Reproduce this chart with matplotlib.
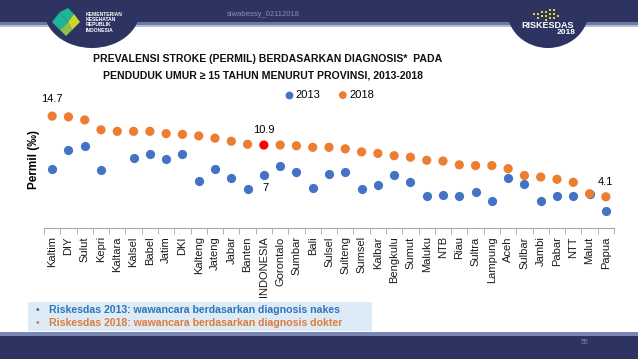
import matplotlib
matplotlib.use("Agg")
import matplotlib.pyplot as plt
from matplotlib.patches import Rectangle, Ellipse, Polygon
from matplotlib import font_manager
import numpy as np

plt.rcParams['font.family'] = ['Liberation Sans', 'DejaVu Sans']

provinces = ["Kaltim", "DIY", "Sulut", "Kepri", "Kaltara", "Kalsel", "Babel", "Jatim", "DKI",
             "Kalteng", "Jateng", "Jabar", "Banten", "INDONESIA", "Gorontalo", "Sumbar", "Bali",
             "Sulsel", "Sulteng", "Sumsel", "Kalbar", "Bengkulu", "Sumut", "Maluku", "NTB", "Riau",
             "Sultra", "Lampung", "Aceh", "Sulbar", "Jambi", "Pabar", "NTT", "Malut", "Papua"]
v2013 = [7.7, 10.3, 10.8, 7.6, np.nan, 9.2, 9.7, 9.1, 9.7,
         6.2, 7.7, 6.6, 5.1, 7.0, 8.2, 7.4, 5.3,
         7.1, 7.4, 5.1, 5.7, 6.9, 6.0, 4.2, 4.4, 4.2,
         4.7, 3.6, 6.6, 5.8, 3.5, 4.2, 4.2, 4.5, 2.2]
v2018 = [14.7, 14.6, 14.2, 12.9, 12.7, 12.7, 12.7, 12.4, 12.3,
         12.1, 11.8, 11.4, 11.0, 10.9, 10.9, 10.8, 10.6,
         10.6, 10.4, 10.0, 9.8, 9.5, 9.3, 8.9, 8.8, 8.3,
         8.2, 8.2, 7.8, 6.9, 6.7, 6.4, 6.0, 4.5, 4.1]
series_names = ["2013", "2018"]
title_lines = ["PREVALENSI STROKE (PERMIL) BERDASARKAN DIAGNOSIS*  PADA",
               "PENDUDUK UMUR \u2265 15 TAHUN MENURUT PROVINSI, 2013-2018"]
notes = ["Riskesdas 2013: wawancara berdasarkan diagnosis nakes",
         "Riskesdas 2018: wawancara berdasarkan diagnosis dokter"]

BLUE = "#4472C4"
ORANGE = "#ED7D31"
NAVY = "#2E3461"

# pick a condensed font for the title if one is installed
installed = {f.name for f in font_manager.fontManager.ttflist}
title_family = None
for cand in ["Liberation Sans Narrow", "DejaVu Sans Condensed"]:
    if cand in installed:
        title_family = cand
        break

fig = plt.figure(figsize=(6.38, 3.59), dpi=100)
W, H = 638, 359

def fx(px): return px / W
def fy(py): return 1 - py / H

# ---- header / footer decoration ----
bg = fig.add_axes([0, 0, 1, 1], zorder=0)
bg.set_xlim(0, W); bg.set_ylim(H, 0); bg.axis("off")
bg.add_patch(Rectangle((0, 0), W, 22, color=NAVY, lw=0))
bg.add_patch(Rectangle((0, 22), W, 3, color="#6E78A8", lw=0))
bg.add_patch(Rectangle((0, 25), W, 2, color="#B5BCD8", lw=0))
bg.add_patch(Ellipse((92, 10), 96, 76, color=NAVY, lw=0))
bg.add_patch(Ellipse((548, 10), 82, 76, color=NAVY, lw=0))
# left logo
bg.add_patch(Polygon([(52, 22), (60, 12), (68, 22), (60, 30)], color="#1FB59A", lw=0))
bg.add_patch(Polygon([(60, 12), (68, 8), (74, 14), (68, 22)], color="#1FB59A", lw=0))
bg.add_patch(Polygon([(68, 22), (74, 14), (80, 22), (72, 30)], color="#C8D92B", lw=0))
bg.add_patch(Polygon([(60, 30), (68, 22), (72, 30), (66, 36)], color="#8BC34A", lw=0))
for i, t in enumerate(["KEMENTERIAN", "KESEHATAN", "REPUBLIK", "INDONESIA"]):
    bg.text(86, 14 + i * 5.5, t, color="white", fontsize=3.6, fontweight="bold", va="center")
# right logo
rng_pts = [(533, 13), (537, 13), (541, 11), (545, 11), (549, 9), (553, 9), (537, 17), (541, 15),
           (545, 15), (549, 13), (553, 13), (545, 19), (549, 17), (553, 17), (557, 15)]
for (px, py) in rng_pts:
    bg.add_patch(Rectangle((px, py), 2.4, 2.4, color="#E8D32A", lw=0))
bg.text(548, 25, "RISKESDAS", color="white", fontsize=6.5, fontweight="bold", ha="center", va="center")
bg.text(566, 32, "2018", color="white", fontsize=6, fontweight="bold", ha="center", va="center")
bg.text(263, 14, "siwabessy_02112018", color="#8A90B0", fontsize=5.5, ha="center", va="center")
# footer
bg.add_patch(Rectangle((0, 332), W, 4, color="#7C86B5", lw=0))
bg.add_patch(Rectangle((0, 336), W, 23, color=NAVY, lw=0))
bg.text(585, 342, "55", color="#7C86B5", fontsize=5, ha="center", va="center")
# footnote box
bg.add_patch(Rectangle((28, 302), 344, 29, color="#DDEBF7", lw=0))
bg.text(36, 310, "\u2022", color="#2E75B6", fontsize=7.6, va="center")
bg.text(49, 310, notes[0], color="#2E75B6", fontsize=7.6, fontweight="bold", va="center")
bg.text(36, 323, "\u2022", color="#E07B39", fontsize=7.6, va="center")
bg.text(49, 323, notes[1], color="#E07B39", fontsize=7.6, fontweight="bold", va="center")

# title
tkw = dict(ha="center", va="center", fontweight="bold", color="#111111")
if title_family:
    tkw.update(family=[title_family, "DejaVu Sans"], fontsize=9.3)
else:
    tkw.update(fontsize=7.6)
fig.text(fx(268), fy(59), title_lines[0], **tkw)
fig.text(fx(263), fy(75), title_lines[1], **tkw)

# ---- chart ----
ax = fig.add_axes([fx(44), fy(228), fx(614) - fx(44), fy(91) - fy(228)], zorder=1)
ax.patch.set_alpha(0)
x = np.arange(len(provinces))
ax.scatter(x, v2013, s=44, color=BLUE, zorder=3, label=series_names[0], linewidths=0)
colors18 = [("#FF0000" if p == "INDONESIA" else ORANGE) for p in provinces]
ax.scatter(x, v2018, s=44, color=colors18, zorder=4, label=series_names[1], linewidths=0)
ax.set_xlim(-0.5, len(provinces) - 0.5)
ax.set_ylim(0, 18)
ax.set_yticks([])
for s in ["top", "right", "left"]:
    ax.spines[s].set_visible(False)
ax.spines["bottom"].set_color("#A6A6A6")
ax.set_xticks(x)
ax.set_xticklabels(provinces, rotation=90, fontsize=8, color="#1a1a1a")
ax.tick_params(axis="x", length=0, pad=6)
ax.set_xticks(np.arange(len(provinces) + 1) - 0.5, minor=True)
ax.tick_params(axis="x", which="minor", length=4, color="#A6A6A6")
ax.set_ylabel("Permil (\u2030)", fontsize=8.5, fontweight="bold", labelpad=3)

idx = provinces.index("INDONESIA")
ax.annotate(f"{v2018[0]}", (x[0], v2018[0]), xytext=(0, 9), textcoords="offset points",
            ha="center", va="bottom", fontsize=8)
ax.annotate(f"{v2018[idx]}", (x[idx], v2018[idx]), xytext=(0, 7), textcoords="offset points",
            ha="center", va="bottom", fontsize=8)
ax.annotate(f"{v2013[idx]:g}", (x[idx], v2013[idx]), xytext=(1, -6), textcoords="offset points",
            ha="center", va="top", fontsize=8)
ax.annotate(f"{v2018[-1]}", (x[-1], v2018[-1]), xytext=(0, 7), textcoords="offset points",
            ha="center", va="bottom", fontsize=8)

leg = ax.legend(loc="upper center", bbox_to_anchor=(0.495, 1.08), ncol=2, frameon=False,
                fontsize=8, handletextpad=-0.4, columnspacing=1.0, markerscale=0.85)

fig.savefig("out.png", dpi=100)
